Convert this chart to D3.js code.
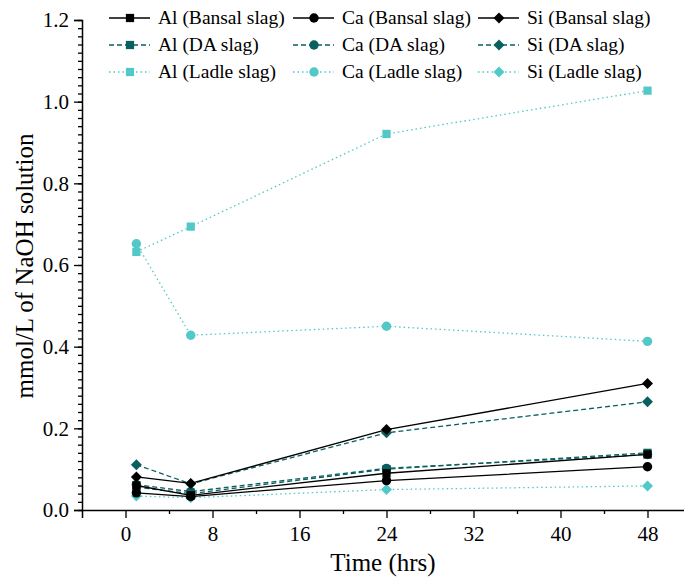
<!DOCTYPE html>
<html>
<head>
<meta charset="utf-8">
<script src="https://cdn.jsdelivr.net/npm/d3@7"></script>
<style>
  html, body { margin: 0; padding: 0; background: #fff; }
</style>
</head>
<body>
<svg id="chart" width="684" height="578"></svg>
<script>
// Sampling times (hours)
const hours = [1, 6, 24, 48];

// Dissolved concentrations, mmol/L of NaOH solution
const alBansal = [0.060, 0.036, 0.090, 0.136];
const caBansal = [0.042, 0.033, 0.072, 0.106];
const siBansal = [0.081, 0.065, 0.197, 0.310];
const alDA     = [0.056, 0.040, 0.100, 0.140];
const caDA     = [0.062, 0.045, 0.102, 0.136];
const siDA     = [0.111, 0.064, 0.189, 0.265];
const alLadle  = [0.632, 0.694, 0.921, 1.027];
const caLadle  = [0.652, 0.428, 0.450, 0.413];
const siLadle  = [0.034, 0.030, 0.050, 0.059];

const xTicks = [0, 8, 16, 24, 32, 40, 48];
const yTicks = [0.0, 0.2, 0.4, 0.6, 0.8, 1.0, 1.2];

const colors = { bansal: "#000000", da: "#0a5f60", ladle: "#52c8c8" };
const dashes = { bansal: null, da: "5,3", ladle: "1.5,3" };

const series = [
  { name: "Al (Bansal slag)", values: alBansal, slag: "bansal", shape: "square" },
  { name: "Ca (Bansal slag)", values: caBansal, slag: "bansal", shape: "circle" },
  { name: "Si (Bansal slag)", values: siBansal, slag: "bansal", shape: "diamond" },
  { name: "Al (DA slag)",     values: alDA,     slag: "da",     shape: "square" },
  { name: "Ca (DA slag)",     values: caDA,     slag: "da",     shape: "circle" },
  { name: "Si (DA slag)",     values: siDA,     slag: "da",     shape: "diamond" },
  { name: "Al (Ladle slag)",  values: alLadle,  slag: "ladle",  shape: "square" },
  { name: "Ca (Ladle slag)",  values: caLadle,  slag: "ladle",  shape: "circle" },
  { name: "Si (Ladle slag)",  values: siLadle,  slag: "ladle",  shape: "diamond" }
];

const FONT = '"Liberation Serif", "Times New Roman", serif';
const svg = d3.select("#chart");

const x = d3.scaleLinear().domain([-4, 52]).range([82, 691]);
const y = d3.scaleLinear().domain([0, 1.2]).range([510, 20]);

// Squares, circles and diamonds (a square turned by 45 degrees)
const symbolTypes = { square: d3.symbolSquare, circle: d3.symbolCircle, diamond: d3.symbolSquare };
const symbolSizes = { square: 68, circle: 70, diamond: 60 };
const symbolRotate = { square: 0, circle: 0, diamond: 45 };
function symbolPath(shape) {
  return d3.symbol().type(symbolTypes[shape]).size(symbolSizes[shape])();
}
function symbolTransform(shape, px, py) {
  return `translate(${px},${py}) rotate(${symbolRotate[shape]})`;
}

// Y axis with major and minor ticks
const yAxis = svg.append("g").attr("transform", `translate(${x(-4)},0)`);
yAxis.call(d3.axisLeft(y).tickValues(yTicks).tickFormat(d3.format(".1f")).tickSize(8).tickPadding(5));
yAxis.append("g").call(d3.axisLeft(y).tickValues(d3.range(0, 1.2001, 0.02)).tickFormat("").tickSize(4))
  .select(".domain").remove();

// X axis with major and minor ticks
const xAxis = svg.append("g").attr("transform", `translate(0,${y(0)})`);
xAxis.call(d3.axisBottom(x).tickValues(xTicks).tickFormat(d3.format("d")).tickSize(8).tickPadding(8));
xAxis.append("g").call(d3.axisBottom(x).tickValues([4, 12, 20, 28, 36, 44]).tickFormat("").tickSize(4))
  .select(".domain").remove();

svg.selectAll(".domain").attr("stroke", "#000").attr("stroke-width", 1.5);
svg.selectAll(".tick line").attr("stroke", "#000").attr("stroke-width", 1.3);
svg.selectAll(".tick text")
  .style("font-family", FONT)
  .style("font-size", "21px")
  .attr("fill", "#000");

// Axis titles
svg.append("text")
  .attr("x", 383).attr("y", 571)
  .attr("text-anchor", "middle")
  .style("font-family", FONT)
  .style("font-size", "25px")
  .text("Time (hrs)");

svg.append("text")
  .attr("transform", `translate(33,266) rotate(-90)`)
  .attr("text-anchor", "middle")
  .style("font-family", FONT)
  .style("font-size", "25px")
  .text("mmol/L of NaOH solution");

// Lines and markers
const line = d3.line().x((d, i) => x(hours[i])).y(d => y(d));
const plot = svg.append("g");
series.slice().reverse().forEach(s => {
  const g = plot.append("g");
  g.append("path")
    .attr("d", line(s.values))
    .attr("fill", "none")
    .attr("stroke", colors[s.slag])
    .attr("stroke-width", 1.3)
    .attr("stroke-dasharray", dashes[s.slag]);
  g.selectAll("path.pt")
    .data(s.values)
    .enter().append("path")
    .attr("class", "pt")
    .attr("transform", (d, i) => symbolTransform(s.shape, x(hours[i]), y(d)))
    .attr("d", symbolPath(s.shape))
    .attr("fill", colors[s.slag]);
});

// Legend: 3 columns x 3 rows
const legend = svg.append("g");
const colText = [158, 342, 527];
const rowY = [18, 45, 72];
series.forEach((s, i) => {
  const tx = colText[i % 3];
  const ty = rowY[Math.floor(i / 3)];
  const g = legend.append("g");
  g.append("line")
    .attr("x1", tx - 49).attr("x2", tx - 8)
    .attr("y1", ty).attr("y2", ty)
    .attr("stroke", colors[s.slag])
    .attr("stroke-width", 1.3)
    .attr("stroke-dasharray", dashes[s.slag]);
  g.append("path")
    .attr("transform", symbolTransform(s.shape, tx - 28, ty))
    .attr("d", symbolPath(s.shape))
    .attr("fill", colors[s.slag]);
  g.append("text")
    .attr("x", tx).attr("y", ty)
    .attr("dy", "0.33em")
    .style("font-family", FONT)
    .style("font-size", "19.5px")
    .attr("fill", "#000")
    .text(s.name);
});
</script>
</body>
</html>
